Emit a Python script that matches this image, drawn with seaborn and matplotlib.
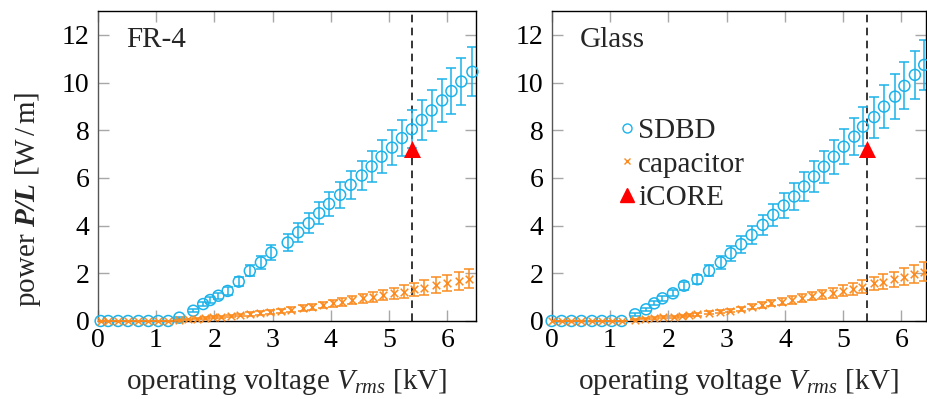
import numpy as np
import pandas as pd
import matplotlib
matplotlib.use("Agg")
import matplotlib.pyplot as plt
import seaborn as sns
from matplotlib.lines import Line2D

# Data
# FR-4 panel
fr4_sdbd_v = [0.05, 0.18, 0.35, 0.52, 0.70, 0.87, 1.04, 1.21, 1.40, 1.64, 1.81, 1.93, 2.07,
              2.23, 2.42, 2.61, 2.80, 2.98, 3.26, 3.44, 3.62, 3.80, 3.97, 4.16, 4.34, 4.53,
              4.70, 4.87, 5.05, 5.22, 5.39, 5.56, 5.73, 5.91, 6.07, 6.24, 6.43]
fr4_sdbd_p = [0, 0, 0, 0, 0, 0, 0, 0, 0.14, 0.43, 0.71, 0.88, 1.06,
              1.26, 1.65, 2.10, 2.46, 2.87, 3.29, 3.72, 4.10, 4.52, 4.91, 5.29, 5.71, 6.10,
              6.48, 6.89, 7.27, 7.67, 8.04, 8.43, 8.83, 9.25, 9.64, 10.04, 10.45]
fr4_sdbd_err = [0.02, 0.02, 0.02, 0.02, 0.02, 0.02, 0.02, 0.02, 0.04, 0.07, 0.09, 0.11, 0.13,
                0.15, 0.19, 0.23, 0.27, 0.31, 0.35, 0.39, 0.43, 0.47, 0.50, 0.54, 0.58, 0.62,
                0.66, 0.70, 0.74, 0.77, 0.80, 0.84, 0.87, 0.91, 0.95, 0.99, 1.03]

fr4_cap_v = [0.05, 0.18, 0.35, 0.52, 0.70, 0.87, 1.04, 1.21, 1.40, 1.55, 1.70, 1.84, 1.98,
             2.12, 2.28, 2.44, 2.61, 2.78, 2.96, 3.14, 3.32, 3.52, 3.68, 3.86, 4.03, 4.20,
             4.37, 4.56, 4.73, 4.90, 5.08, 5.25, 5.43, 5.60, 5.81, 6.00, 6.20, 6.37]
fr4_cap_p = [0, 0, 0, 0, 0, 0, 0, 0, 0.03, 0.07, 0.10, 0.12, 0.15,
             0.18, 0.21, 0.25, 0.29, 0.34, 0.38, 0.42, 0.48, 0.56, 0.60, 0.67, 0.74, 0.81,
             0.88, 0.95, 1.02, 1.09, 1.16, 1.23, 1.33, 1.40, 1.51, 1.60, 1.68, 1.78]
fr4_cap_err = [0.01, 0.01, 0.01, 0.01, 0.01, 0.01, 0.01, 0.01, 0.02, 0.02, 0.03, 0.03, 0.04,
               0.04, 0.05, 0.06, 0.07, 0.08, 0.09, 0.10, 0.11, 0.12, 0.13, 0.14, 0.15, 0.17,
               0.18, 0.19, 0.21, 0.22, 0.24, 0.26, 0.28, 0.30, 0.32, 0.34, 0.36, 0.38]

# Glass panel
gl_sdbd_v = [0.00, 0.17, 0.34, 0.51, 0.69, 0.86, 1.03, 1.20, 1.43, 1.62, 1.76, 1.90, 2.08,
             2.27, 2.50, 2.70, 2.90, 3.07, 3.25, 3.43, 3.62, 3.80, 3.98, 4.16, 4.33, 4.50,
             4.67, 4.84, 5.01, 5.19, 5.34, 5.53, 5.70, 5.89, 6.05, 6.23, 6.39]
gl_sdbd_p = [0, 0, 0, 0, 0, 0, 0, 0, 0.28, 0.49, 0.74, 0.95, 1.16,
             1.48, 1.75, 2.11, 2.46, 2.84, 3.22, 3.61, 4.03, 4.45, 4.84, 5.22, 5.64, 6.06,
             6.47, 6.89, 7.31, 7.73, 8.15, 8.55, 8.99, 9.41, 9.86, 10.32, 10.74]
gl_sdbd_err = [0.02, 0.02, 0.02, 0.02, 0.02, 0.02, 0.02, 0.02, 0.05, 0.07, 0.09, 0.11, 0.13,
               0.16, 0.19, 0.23, 0.27, 0.31, 0.35, 0.39, 0.43, 0.47, 0.51, 0.55, 0.59, 0.63,
               0.67, 0.71, 0.74, 0.78, 0.82, 0.86, 0.90, 0.94, 0.98, 1.02, 1.06]

gl_cap_v = [0.00, 0.17, 0.34, 0.51, 0.69, 0.86, 1.03, 1.20, 1.43, 1.60, 1.75, 1.91, 2.09,
            2.24, 2.36, 2.49, 2.70, 2.88, 3.06, 3.24, 3.43, 3.60, 3.77, 3.95, 4.12, 4.29,
            4.46, 4.63, 4.82, 5.00, 5.17, 5.33, 5.52, 5.69, 5.87, 6.04, 6.21, 6.39]
gl_cap_p = [0, 0, 0, 0, 0, 0, 0, 0, 0.06, 0.09, 0.13, 0.16, 0.18,
            0.22, 0.25, 0.28, 0.35, 0.39, 0.44, 0.50, 0.60, 0.68, 0.74, 0.81, 0.88, 0.95,
            1.05, 1.12, 1.19, 1.27, 1.34, 1.44, 1.58, 1.65, 1.75, 1.86, 1.97, 2.07]
gl_cap_err = [0.01, 0.01, 0.01, 0.01, 0.01, 0.01, 0.01, 0.01, 0.02, 0.02, 0.03, 0.03, 0.04,
              0.04, 0.05, 0.05, 0.06, 0.07, 0.08, 0.09, 0.11, 0.12, 0.13, 0.14, 0.16, 0.17,
              0.18, 0.20, 0.21, 0.22, 0.24, 0.26, 0.28, 0.30, 0.32, 0.35, 0.38, 0.41]

icore_v = [5.4]
icore_p = [7.2]
v_operating = 5.4

BLUE = '#1cb3ea'
ORANGE = '#fb8b1f'
RED = '#ff0000'

sns.set_theme(style="ticks")
plt.rcParams['font.family'] = ['Liberation Serif', 'DejaVu Serif']
plt.rcParams['mathtext.fontset'] = 'custom'
plt.rcParams['mathtext.rm'] = 'Liberation Serif'
plt.rcParams['mathtext.it'] = 'Liberation Serif:italic'
plt.rcParams['mathtext.bf'] = 'Liberation Serif:bold'
try:
    plt.rcParams['mathtext.bfit'] = 'Liberation Serif:italic:bold'
except KeyError:
    pass

FS = 20     # tick labels
LFS = 21    # axis labels, legend, panel names


def draw_panel(ax, sdbd_v, sdbd_p, sdbd_err, cap_v, cap_p, cap_err, name, xmax):
    sdbd = pd.DataFrame({'V': sdbd_v, 'P': sdbd_p, 'err': sdbd_err})
    cap = pd.DataFrame({'V': cap_v, 'P': cap_p, 'err': cap_err})

    ax.axvline(v_operating, color='black', lw=1.1, ls=(0, (5, 3.5)), zorder=1)

    ax.errorbar(sdbd['V'], sdbd['P'], yerr=sdbd['err'], fmt='none', ecolor=BLUE,
                elinewidth=1.1, capsize=3.6, capthick=1.1, zorder=2)
    sns.scatterplot(data=sdbd, x='V', y='P', ax=ax, marker='o', s=62,
                    facecolors='none', edgecolors=BLUE, linewidth=1.1, zorder=3,
                    clip_on=False)

    ax.errorbar(cap['V'], cap['P'], yerr=cap['err'], fmt='none', ecolor=ORANGE,
                elinewidth=1.1, capsize=3.6, capthick=1.1, zorder=4)
    sns.scatterplot(data=cap, x='V', y='P', ax=ax, marker='x', s=30,
                    color=ORANGE, linewidth=1.1, zorder=5, clip_on=False)

    sns.scatterplot(x=icore_v, y=icore_p, ax=ax, marker='^', s=150,
                    color=RED, edgecolor=RED, linewidth=0, zorder=6)

    ax.set_xlim(0, xmax)
    ax.set_ylim(0, 13)
    ax.set_xticks(range(0, 7))
    ax.set_yticks(range(0, 13, 2))
    ax.tick_params(direction='in', length=8, width=1, color='#a8a8a8',
                   top=True, right=True, labelcolor='black', labelsize=FS)
    ax.tick_params(axis='x', pad=5)
    ax.tick_params(axis='y', pad=6)
    for sp in ax.spines.values():
        sp.set_color('black')
        sp.set_linewidth(1.0)
    ax.spines['left'].set_color('#555555')

    ax.set_xlabel(r'operating voltage $V_{rms}$ [kV]', fontsize=LFS, labelpad=10)
    ax.set_ylabel('')
    ax.text(0.075, 0.905, name, transform=ax.transAxes, fontsize=LFS,
            ha='left', va='center')


fig = plt.figure(figsize=(9.27, 3.99), dpi=100)
ax1 = fig.add_axes([0.1054, 0.1955, 0.408, 0.777])
ax2 = fig.add_axes([0.5951, 0.1955, 0.4038, 0.777])

draw_panel(ax1, fr4_sdbd_v, fr4_sdbd_p, fr4_sdbd_err,
           fr4_cap_v, fr4_cap_p, fr4_cap_err, 'FR-4', 6.49)
draw_panel(ax2, gl_sdbd_v, gl_sdbd_p, gl_sdbd_err,
           gl_cap_v, gl_cap_p, gl_cap_err, 'Glass', 6.42)

ax1.set_ylabel(r'power $\mathbfit{P/L}$ [W$\,$/$\,$m]', fontsize=LFS)
ax1.yaxis.set_label_coords(-0.145, 0.394)

handles = [
    Line2D([], [], ls='none', marker='o', ms=6.5, mfc='none', mec=BLUE, mew=1.0),
    Line2D([], [], ls='none', marker='x', ms=5, color=ORANGE, mew=1.0),
    Line2D([], [], ls='none', marker='^', ms=10, color=RED),
]
ax2.legend(handles, ['SDBD', 'capacitor', 'iCORE'], loc='center left',
           bbox_to_anchor=(0.13, 0.505), frameon=False,
           prop={'family': 'Liberation Serif', 'size': LFS},
           handlelength=0.8, handletextpad=0.0, labelspacing=0.25, borderpad=0)

fig.savefig('out.png', dpi=100)
